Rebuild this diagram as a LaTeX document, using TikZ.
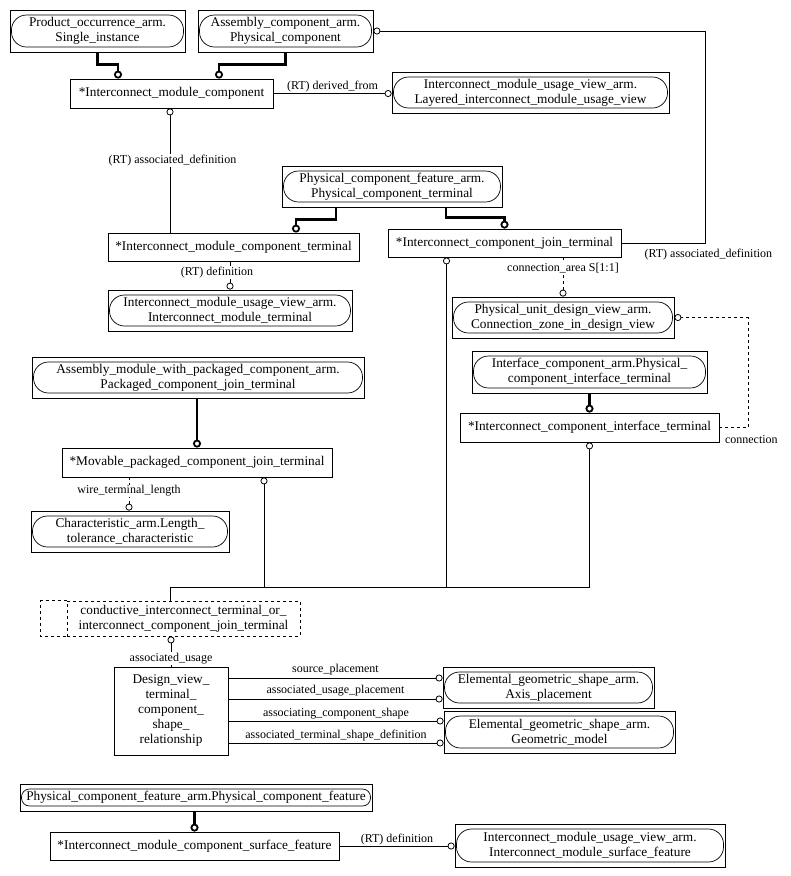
\documentclass[tikz,border=0pt]{standalone}
\usepackage{fontspec}
\setmainfont{Liberation Serif}
\usepackage{tikz}
\usetikzlibrary{arrows.meta}
\newcommand{\egfont}{\fontsize{13.3}{15}\selectfont}
\newcommand{\eglabelfont}{\fontsize{12}{14}\selectfont}

\begin{document}
\begin{tikzpicture}[
  x=1pt,y=-1pt,
  entity/.style={draw,line width=0.8pt,font=\egfont,align=center,inner sep=1pt},
  ext/.style={entity,path picture={\draw[line width=0.7pt,rounded corners=#1]
      ([xshift=1.5pt,yshift=-5pt]path picture bounding box.north west) rectangle
      ([xshift=-1.5pt,yshift=5pt]path picture bounding box.south east);}},
  ext/.default=15pt,
  select/.style={entity,dashed},
  sub/.style={line width=2.2pt,-{Circle[open,length=8pt,line width=1.8pt]}},
  attr/.style={line width=0.8pt,-{Circle[open,length=7pt,line width=0.8pt]}},
  lbl/.style={font=\eglabelfont,inner sep=1pt,fill=white}
]
\useasboundingbox (0,0) rectangle (791,876);

\node[ext,minimum width=175,minimum height=42] (poa) at (97.5,31) {Product\_occurrence\_arm.\\Single\_instance};
\node[ext,minimum width=175,minimum height=42] (aca) at (285.5,31) {Assembly\_component\_arm.\\Physical\_component};
\node[ext,minimum width=277,minimum height=41] (lim) at (530.5,92.5) {Interconnect\_module\_usage\_view\_arm.\\Layered\_interconnect\_module\_usage\_view};
\node[ext,minimum width=220,minimum height=41] (pct) at (392,186.5) {Physical\_component\_feature\_arm.\\Physical\_component\_terminal};
\node[ext,minimum width=244,minimum height=41] (imt) at (230,310.5) {Interconnect\_module\_usage\_view\_arm.\\Interconnect\_module\_terminal};
\node[ext,minimum width=222,minimum height=41] (czd) at (563,317.5) {Physical\_unit\_design\_view\_arm.\\Connection\_zone\_in\_design\_view};
\node[ext,minimum width=235,minimum height=42] (pcit) at (589.5,372) {Interface\_component\_arm.Physical\_\\component\_interface\_terminal};
\node[ext,minimum width=332,minimum height=41] (pcjt) at (198,377.5) {Assembly\_module\_with\_packaged\_component\_arm.\\Packaged\_component\_join\_terminal};
\node[ext,minimum width=198,minimum height=41] (ltc) at (130,531.5) {Characteristic\_arm.Length\_\\tolerance\_characteristic};
\node[ext,minimum width=211,minimum height=41] (axp) at (548.5,687.5) {Elemental\_geometric\_shape\_arm.\\Axis\_placement};
\node[ext,minimum width=231,minimum height=42] (gm) at (559.5,732) {Elemental\_geometric\_shape\_arm.\\Geometric\_model};
\node[ext=8pt,minimum width=352,minimum height=27] (pcf) at (196,797.5) {Physical\_component\_feature\_arm.Physical\_component\_feature};
\node[ext,minimum width=270,minimum height=43] (ims) at (590,845.5) {Interconnect\_module\_usage\_view\_arm.\\Interconnect\_module\_surface\_feature};

\node[entity,minimum width=203,minimum height=29] (imc) at (171.5,93.5) {*Interconnect\_module\_component};
\node[entity,minimum width=251,minimum height=28] (imct) at (233.5,247) {*Interconnect\_module\_component\_terminal};
\node[entity,minimum width=233,minimum height=28] (icjt) at (504.5,243) {*Interconnect\_component\_join\_terminal};
\node[entity,minimum width=259,minimum height=29] (icit) at (589.5,427.5) {*Interconnect\_component\_interface\_terminal};
\node[entity,minimum width=270,minimum height=29] (mpcjt) at (197,462.5) {*Movable\_packaged\_component\_join\_terminal};
\node[entity,minimum width=114,minimum height=88] (dvt) at (171,711) {Design\_view\_\\terminal\_\\component\_\\shape\_\\relationship};
\node[entity,minimum width=289,minimum height=28] (imcsf) at (194.5,846) {*Interconnect\_module\_component\_surface\_feature};
\node[select,minimum width=233,minimum height=35] (sel) at (183.5,618.5) {conductive\_interconnect\_terminal\_or\_\\interconnect\_component\_join\_terminal};
\draw[dashed,line width=0.8pt] (sel.north west) -- ++(-26,0) |- (sel.south west);

\draw[sub] (poa.south) -- ++(0,12) -| ([xshift=-53.5pt]imc.north);
\draw[sub] (aca.south) -- ++(0,12) -| ([xshift=47.5pt]imc.north);
\draw[sub] ([xshift=-56pt]pct.south) -- ++(0,12) -| ([xshift=62.5pt]imct.north);
\draw[sub] ([xshift=54pt]pct.south) -- ++(0,10) -| (icjt.north);
\draw[sub] (pcit.south) -- (icit.north);
\draw[sub] (mpcjt.north |- pcjt.south) -- (mpcjt.north);
\draw[sub] (imcsf.north |- pcf.south) -- (imcsf.north);

\draw[attr] (imc.east) -- (imc.east -| lim.west) node[lbl,midway,above,fill=none] {(RT) derived\_from};
\draw[attr] ([xshift=-63.5pt]imct.north) -- ([xshift=-63.5pt]imct.north |- imc.south) node[lbl,pos=0.58,xshift=2.5pt] {(RT) associated\_definition};
\draw[attr] (imct.south -| imt.north) -- (imt.north) node[lbl,pos=0.41,xshift=-13pt] {(RT) definition};
\draw[attr] (icjt.east) -- ++(84,0) node[lbl,below,fill=none,yshift=-5pt,xshift=3pt] {(RT) associated\_definition} |- (aca.east);
\draw[attr,dashed] ([xshift=58.5pt]icjt.south) -- (czd.north) node[lbl,pos=0.28] {connection\_area S[1:1]};
\draw[attr,dashed] (icit.east) -- ++(29,0) node[lbl,below,fill=none,yshift=-7pt,xshift=3pt] {connection} |- (czd.east);

\draw[attr] ([xshift=-13.5pt]sel.north) -- ++(0,-13) -| ([xshift=67pt]mpcjt.south);
\draw[attr] ([xshift=-13.5pt]sel.north) -- ++(0,-13) -| ([xshift=-58pt]icjt.south);
\draw[attr] ([xshift=-13.5pt]sel.north) -- ++(0,-13) -| (icit.south);
\draw[attr] (dvt.north) -- (dvt.north |- sel.south) node[lbl,pos=0.26] {associated\_usage};
\draw[attr,dashed] ([xshift=-68pt]mpcjt.south) -- ([xshift=-68pt]mpcjt.south |- ltc.north) node[lbl,pos=0.41] {wire\_terminal\_length};

\draw[attr] ([yshift=33pt]dvt.east) -- ([yshift=33pt]dvt.east -| axp.west) node[lbl,midway,above=2pt,fill=none] {source\_placement};
\draw[attr] ([yshift=12pt]dvt.east) -- ([yshift=12pt]dvt.east -| axp.west) node[lbl,midway,above=2pt,fill=none] {associated\_usage\_placement};
\draw[attr] ([yshift=-10pt]dvt.east) -- ([yshift=-10pt]dvt.east -| gm.west) node[lbl,midway,above=1pt,fill=none] {associating\_component\_shape};
\draw[attr] ([yshift=-32pt]dvt.east) -- ([yshift=-32pt]dvt.east -| gm.west) node[lbl,midway,above=1pt,fill=none] {associated\_terminal\_shape\_definition};

\draw[attr] (imcsf.east) -- (imcsf.east -| ims.west) node[lbl,midway,above,fill=none] {(RT) definition};
\end{tikzpicture}
\end{document}
